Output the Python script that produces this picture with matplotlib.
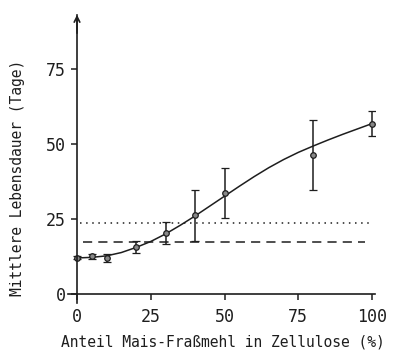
import numpy as np
import matplotlib
matplotlib.use('Agg')
import matplotlib.pyplot as plt

# measured points with error bars
x_pts = [0, 5, 10, 20, 30, 40, 50, 80, 100]
y_pts = [12.0, 12.5, 12.0, 15.7, 20.2, 26.2, 33.6, 46.3, 56.8]
err_lo = [0.5, 0.7, 1.3, 2.0, 3.5, 8.5, 8.3, 11.7, 4.0]
err_hi = [0.5, 0.7, 1.3, 2.0, 3.8, 8.5, 8.3, 11.7, 4.2]

# fitted curve
x_fit = [0, 5, 10, 15, 20, 25, 30, 35, 40, 45, 50, 55, 60, 65, 70, 75, 80, 85, 90, 95, 100]
y_fit = [12.0, 12.2, 12.7, 13.8, 15.5, 17.5, 20.0, 22.9, 26.0, 29.3, 32.6,
         35.9, 39.1, 42.1, 44.8, 47.2, 49.3, 51.3, 53.2, 55.0, 56.8]

# reference levels
dotted_y = 23.7
dotted_x = [1, 99]
dashed_y = 17.3
dashed_x = [2, 97.5]

xticks = [0, 25, 50, 75, 100]
yticks = [0, 25, 50, 75]

font = 'DejaVu Sans Mono'
col = '#1e1e1e'

fig = plt.figure(figsize=(3.94, 3.56), dpi=100)
ax = fig.add_axes([0.173, 0.149, 0.779, 0.809])
ax.set_xlim(-3, 101)
ax.set_ylim(-3, 93)

ax.plot(x_fit, y_fit, color=col, lw=1.1)
ax.errorbar(x_pts, y_pts, yerr=[err_lo, err_hi], fmt='o', ms=4, mfc='#888888',
            mec=col, mew=0.9, ecolor=col, elinewidth=1.1, capsize=3, capthick=1.1)
ax.plot(dotted_x, [dotted_y, dotted_y], color=col, lw=1.1, linestyle=(0, (1, 3)))
ax.plot(dashed_x, [dashed_y, dashed_y], color=col, lw=1.1, linestyle=(0, (6, 4)))

for s in ['top', 'right']:
    ax.spines[s].set_visible(False)
ax.spines['left'].set_position(('data', 0))
ax.spines['bottom'].set_position(('data', 0))
ax.spines['left'].set_color(col)
ax.spines['bottom'].set_color(col)
ax.spines['left'].set_linewidth(1.2)
ax.spines['bottom'].set_linewidth(1.2)
ax.annotate('', xy=(0, 94), xytext=(0, 86),
            arrowprops=dict(arrowstyle='->', lw=1.2, color=col), annotation_clip=False)

ax.set_xticks(xticks)
ax.set_yticks(yticks)
ax.set_xticklabels([str(t) for t in xticks], fontfamily=font, fontsize=12)
ax.set_yticklabels([str(t) for t in yticks], fontfamily=font, fontsize=12)
ax.tick_params(axis='both', direction='out', length=4, width=1.1, color=col, labelcolor=col)
ax.tick_params(axis='x', pad=6)
ax.tick_params(axis='y', pad=4)

fig.text(0.565, 0.04, 'Anteil Mais-Fraßmehl in Zellulose (%)', ha='center', va='center',
         fontfamily=font, fontsize=10.5, color=col)
fig.text(0.045, 0.50, 'Mittlere Lebensdauer (Tage)', ha='center', va='center',
         rotation=90, fontfamily=font, fontsize=10.5, color=col)

fig.savefig('out.png', dpi=100)
